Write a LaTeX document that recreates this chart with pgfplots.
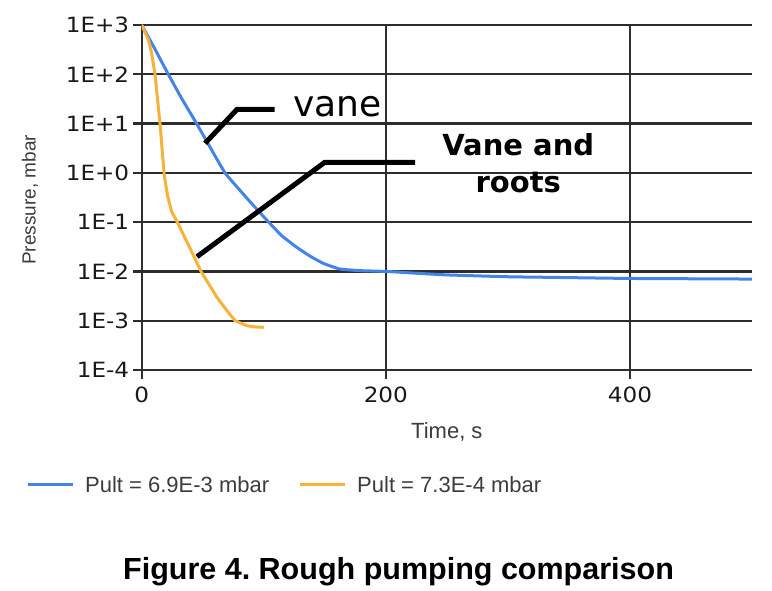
\documentclass[border=0pt]{standalone}
\usepackage{pgfplots}
\pgfplotsset{compat=1.18}
\usepackage{fontspec}
\setmainfont{Liberation Sans}
\newfontfamily\tickfont[FakeStretch=1.1]{DejaVu Sans}
\newfontfamily\annfont{DejaVu Sans}
\definecolor{cblue}{RGB}{66,133,230}
\definecolor{corange}{RGB}{247,178,58}
\definecolor{gridc}{RGB}{45,45,45}
\definecolor{labc}{RGB}{60,60,60}
\frenchspacing
\begin{document}
\begin{tikzpicture}
\path[use as bounding box] (-141.7pt,-221pt) rectangle (630.3pt,370pt);
\begin{axis}[
  at={(0pt,0pt)}, anchor=south west,
  scale only axis, width=610.3pt, height=345pt,
  xmin=0, xmax=500, ymode=log, ymin=1e-4, ymax=1e3,
  axis lines=left, axis line style={-, gridc, line width=2.2pt},
  grid=major, major grid style={gridc, line width=2.2pt},
  yminorticks=false, xminorticks=false,
  xtick={0,200,400}, xticklabels={0,200,400},
  ytick={1e-4,1e-3,1e-2,1e-1,1,10,100,1000},
  yticklabels={1E-4,1E-3,1E-2,1E-1,1E+0,1E+1,1E+2,1E+3},
  tick align=outside, major tick length=9pt,
  tick style={gridc, line width=2.2pt},
  ticklabel style={font=\tickfont\fontsize{21}{23}\selectfont, text=black!90},
  xticklabel style={yshift=-4pt},
  xlabel={Time, s}, ylabel={Pressure, mbar},
  xlabel style={at={(axis description cs:0.5,-0.1797)}, anchor=center, font=\fontsize{22}{24}\selectfont, text=labc},
  ylabel style={at={(axis description cs:-0.183,0.493)}, anchor=center, font=\fontsize{19}{21}\selectfont, text=labc},
  legend style={at={(axis description cs:-0.1896,-0.3333)}, anchor=west, draw=none, fill=none,
    font=\fontsize{22}{24}\selectfont, text=labc, inner sep=0pt,
    /tikz/every even column/.append style={column sep=27pt}},
  legend columns=2,
  legend image code/.code={\draw[#1] (0pt,0pt) -- (45pt,0pt); \path (54pt,0pt);},
]
\addplot[cblue, line width=3pt, smooth, tension=0.3] coordinates {
(0,1000) (10,355) (21.8,100) (33,31.6) (45,10) (56.5,3.16) (68.3,1) (80,0.457) (90,0.24)
(104,0.1) (115,0.0525) (127,0.0309) (138,0.0204) (149,0.0145) (162.5,0.0112) (180,0.01035)
(200,0.0100) (225,0.0092) (250,0.0085) (300,0.0078) (332,0.0076) (400,0.0072) (450,0.0071) (500,0.0070)};
\addlegendentry{Pult = 6.9E-3 mbar}
\addplot[corange, line width=3pt] coordinates {
(0,1000) (5.5,501) (8.2,263) (10.9,100) (15,10) (18.3,1) (19.1,0.708) (21.5,0.316) (24.6,0.162)
(29.2,0.1) (39,0.0316) (48.6,0.01) (61.5,0.00302) (70,0.00158) (76.5,0.001)
(86,0.000794) (92,0.00075) (100,0.000733)};
\addlegendentry{Pult = 7.3E-4 mbar}
\addplot[black, line width=5pt, forget plot] coordinates {(51.9,3.98) (78,19.3) (109,19.3)};
\addplot[black, line width=5pt, forget plot] coordinates {(45.3,0.0199) (150,1.64) (224,1.64)};
\node[font=\annfont\fontsize{36}{40}\selectfont, anchor=west] at (axis cs:121.5,21.7) {vane};
\node[font=\annfont\bfseries\fontsize{29}{37}\selectfont, align=center] at (axis cs:308.5,1.55) {Vane and\\roots};
\end{axis}
\node[font=\bfseries\fontsize{30.5}{32}\selectfont] at (256.8pt,-202pt) {Figure 4. Rough pumping comparison};
\end{tikzpicture}
\end{document}
